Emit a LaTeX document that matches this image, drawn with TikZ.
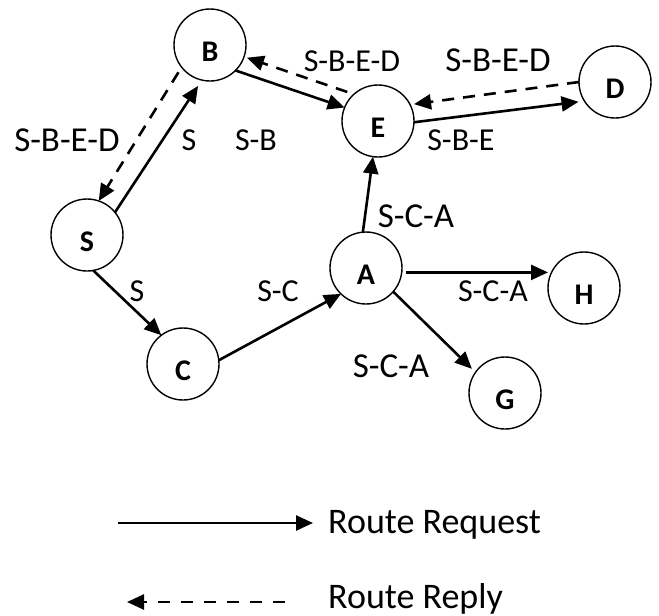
\documentclass[tikz,border=0pt]{standalone}
\usepackage{fontspec}
\setmainfont{Carlito}
\usetikzlibrary{arrows.meta}
\begin{document}
\begin{tikzpicture}[x=1pt,y=-1pt,
  nd/.style={circle,draw,line width=1.4pt,minimum size=72pt,inner sep=0pt,outer sep=0pt,
    font=\fontsize{30}{31}\selectfont\bfseries,text height=32pt,text depth=0pt},
  req/.style={line width=2.6pt,-{Triangle[length=17pt,width=15pt]}},
  rep/.style={line width=2.6pt,dash pattern=on 12pt off 9pt,-{Triangle[length=17pt,width=15pt]}},
  lbl/.style={inner sep=0pt,font=\fontsize{32}{34}\selectfont},
  lblL/.style={inner sep=0pt,font=\fontsize{35}{38}\selectfont},
  lgd/.style={inner sep=0pt,anchor=base west,font=\fontsize{36}{40}\selectfont}]
\useasboundingbox (0,0) rectangle (659,616);
% nodes
\node[nd] (B) at (210,45) {B};
\node[nd] (S) at (87,235) {S};
\node[nd] (E) at (378,121) {E};
\node[nd] (D) at (615,82) {D};
\node[nd] (A) at (366,268) {A};
\node[nd] (C) at (183,364) {C};
\node[nd] (H) at (584,288) {H};
\node[nd] (G) at (505,393) {G};
% connectors
\draw[req,shorten >=7pt] (S.39) -- (B.257);
\draw[rep,shorten <=6pt] (B.218) -- (S.71);
\draw[req] (B.315) -- (E.158);
\draw[rep,shorten <=7pt,shorten >=3pt] (E.132) -- (B.341);
\draw[req,shorten >=6pt] (E.358) -- (D.212);
\draw[rep,shorten >=4pt] (D.180) -- (E.27);
\draw[req] (A.95) -- (E.262);
\draw[req] (S.280) -- (C.127);
\draw[req] (C.6) -- (A.226);
\draw[req,shorten <=4pt] (A.353) -- (A.353 -| H.west);
\draw[req,shorten >=5pt] (A.319) -- (G.145);
% labels
\node[lblL] (l1) at (67,140) {S-B-E-D};
\node[lbl] (l2) at (189,140) {S};
\node[lbl] (l3) at (256,140) {S-B};
\node[lbl] (l4) at (352,61) {S-B-E-D};
\node[lblL] (l5) at (498,60) {S-B-E-D};
\node[lbl] (l6) at (461,140) {S-B-E};
\node[lblL] (l7) at (416,216) {S-C-A};
\node[lbl] (l8) at (137,291) {S};
\node[lbl] (l9) at (278,291) {S-C};
\node[lbl] (l10) at (493,291) {S-C-A};
\node[lblL] (l11) at (391,366) {S-C-A};
% legend
\coordinate (q1) at (118,523);
\coordinate (q2) at (313,523);
\draw[req] (q1) -- (q2);
\node[lgd] (rq) at (328,533) {Route Request};
\coordinate (p1) at (285,602);
\coordinate (p2) at (127,602);
\draw[rep,dash pattern=on 12pt off 11pt] (p1) -- (p2);
\node[lgd] (rp) at (328,608) {Route Reply};
\end{tikzpicture}
\end{document}
